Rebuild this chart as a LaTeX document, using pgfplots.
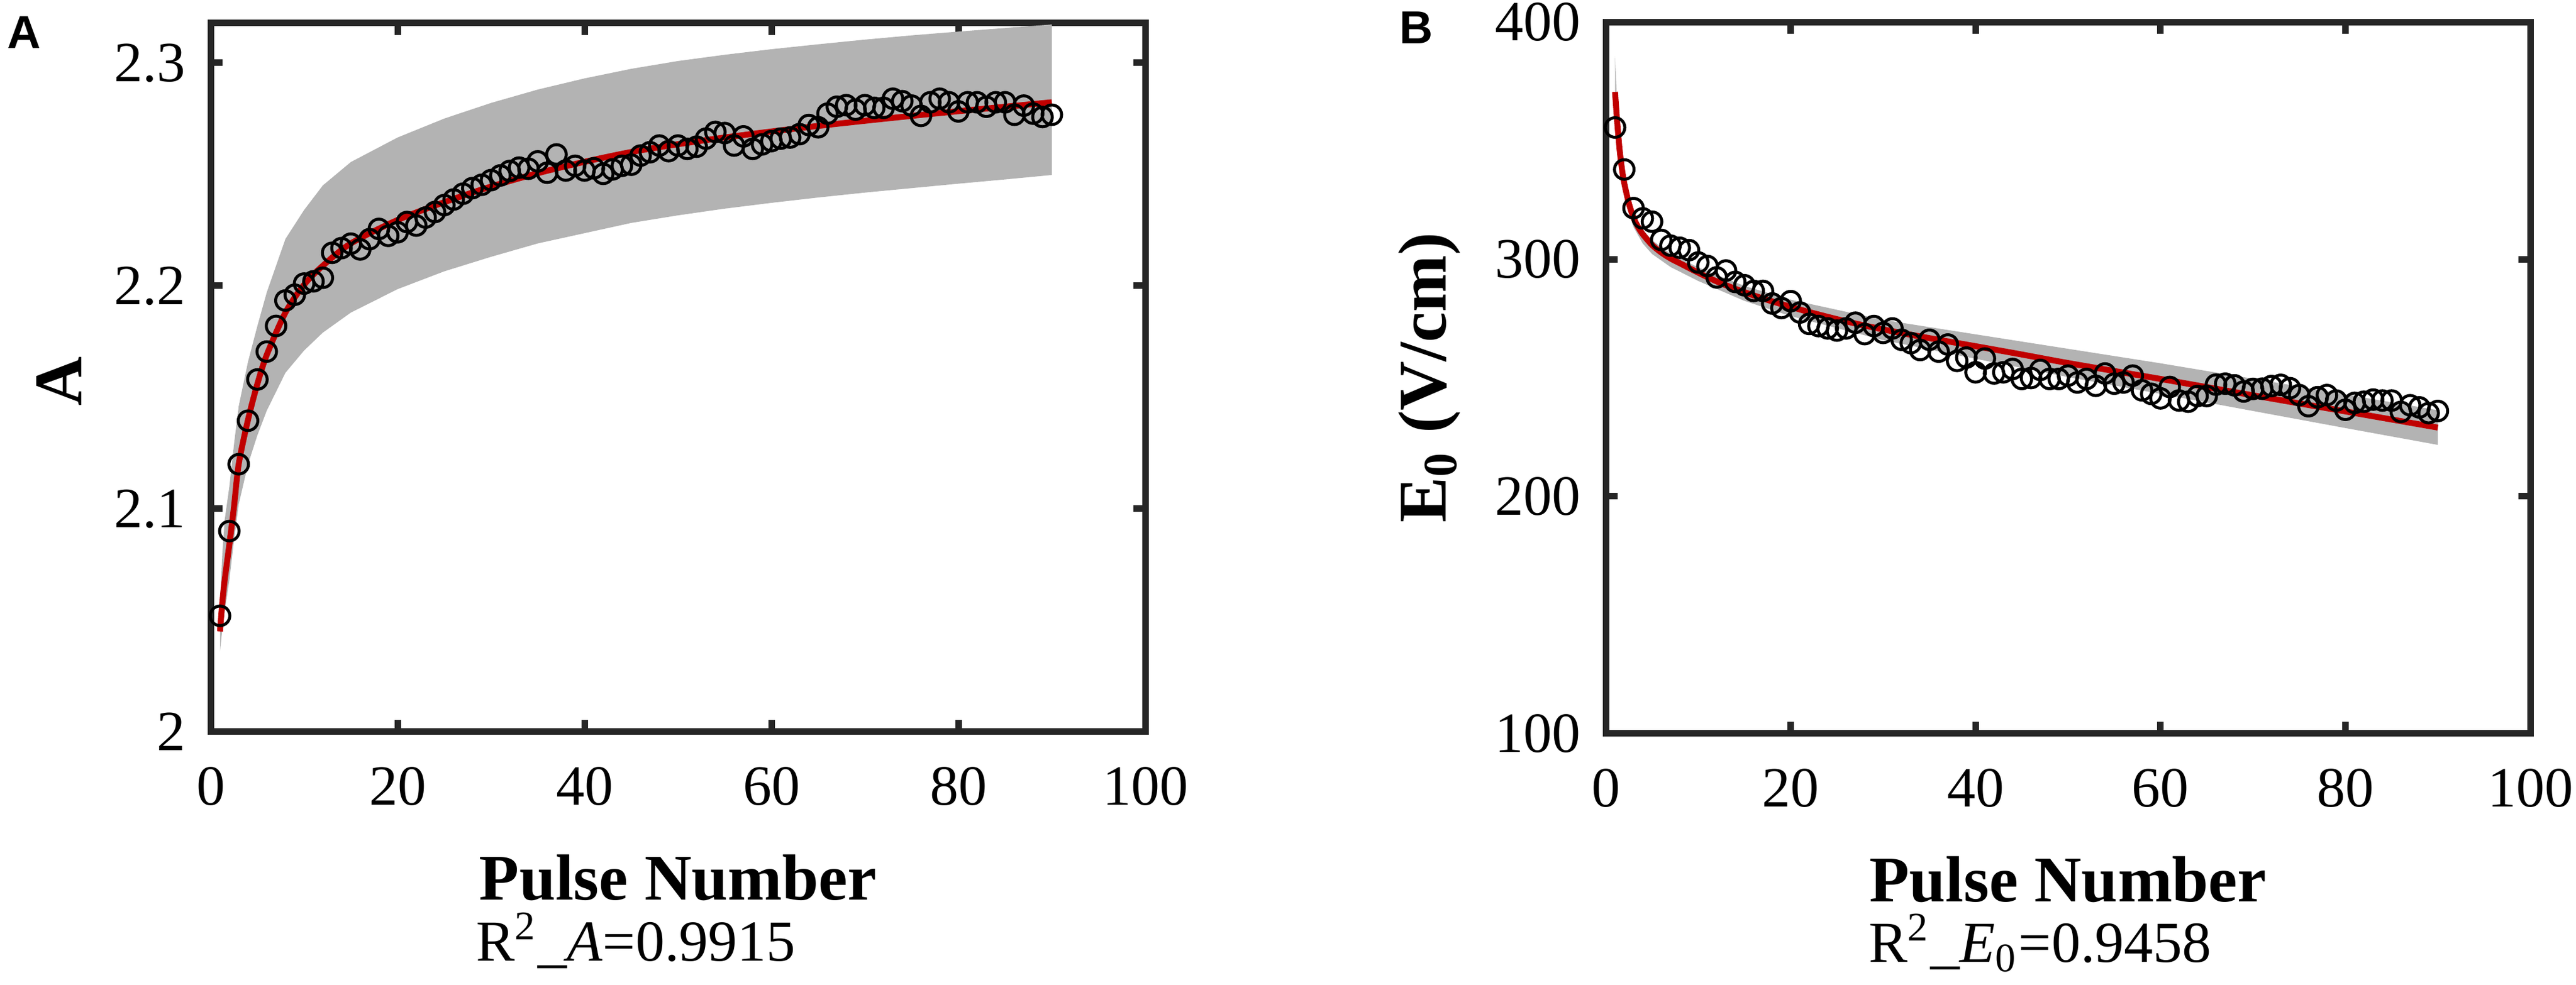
\documentclass[border=0pt]{standalone}
\usepackage{fontspec}
\setmainfont{Liberation Serif}
\newfontfamily\panelfont{Liberation Sans}
\usepackage{pgfplots}
\pgfplotsset{compat=1.18}
\usepgfplotslibrary{fillbetween}
\definecolor{bandgray}{RGB}{179,179,179}
\definecolor{fitred}{RGB}{192,0,0}
\definecolor{axcol}{RGB}{38,38,38}
\pgfplotsset{
  myax/.style={
    scale only axis, anchor=south west,
    axis line style={axcol, line width=1.1pt},
    every tick/.style={axcol, line width=1.1pt},
    major tick length=2pt, tick align=inside,
    xmin=0, xmax=100, xtick={0,20,...,100},
    enlargelimits=false,
    /pgf/number format/assume math mode=true,
    tick label style={font=\fontsize{9.6}{10}\selectfont, text=black},
    xticklabel style={yshift=-2.4pt},
    yticklabel style={xshift=-0.7pt},
  }
}
\begin{document}
\begin{tikzpicture}
% ---------------- Panel A ----------------
\begin{axis}[myax, at={(35.5pt,42.7pt)}, width=157.5pt, height=119.5pt,
  ymin=2, ymax=2.3178, ytick={2,2.1,2.2,2.3}]
\addplot[name path=aup, draw=none] coordinates {
(1,2.058)(1.25,2.080)(1.5,2.095)(2,2.110)(2.5,2.129)(3,2.146)(4,2.166)(5,2.182)(6,2.197)(8,2.221)(10,2.234)(12,2.245)(15,2.2555)(20,2.2665)(25,2.275)(30,2.282)(35,2.288)(40,2.293)(45,2.2973)(50,2.3008)(55,2.3036)(60,2.3061)(65,2.3083)(70,2.3104)(75,2.3123)(80,2.3140)(85,2.3156)(90,2.3172)};
\addplot[name path=alo, draw=none] coordinates {
(1,2.036)(1.25,2.046)(1.5,2.054)(2,2.068)(2.5,2.086)(3,2.102)(4,2.120)(5,2.133)(6,2.144)(8,2.161)(10,2.171)(12,2.179)(15,2.188)(20,2.1985)(25,2.2065)(30,2.213)(35,2.219)(40,2.2236)(45,2.2282)(50,2.2316)(55,2.2346)(60,2.2372)(65,2.2396)(70,2.2418)(75,2.2438)(80,2.2458)(85,2.2477)(90,2.2497)};
\addplot[bandgray, draw=none] fill between[of=aup and alo];
\addplot[only marks, mark=o, mark size=1.65pt, mark options={black, line width=0.5pt}] coordinates {
(1,2.052)(2,2.090)(3,2.120)(4,2.1395)(5,2.158)(6,2.1705)(7,2.182)(8,2.1934)(9,2.196)(10,2.201)
(11,2.202)(12,2.2036)(13,2.2148)(14,2.2169)(15,2.2189)(16,2.2163)(17,2.2209)(18,2.2255)(19,2.2224)(20,2.224)
(21,2.2286)(22,2.227)(23,2.2306)(24,2.2331)(25,2.2362)(26,2.2387)(27,2.2413)(28,2.2438)(29,2.2453)(30,2.2474)
(31,2.2495)(32,2.2515)(33,2.2530)(34,2.2525)(35,2.2558)(36,2.2507)(37,2.2589)(38,2.2517)(39,2.2538)(40,2.2517)
(41,2.2527)(42,2.2502)(43,2.2522)(44,2.2538)(45,2.2543)(46,2.2584)(47,2.2599)(48,2.2629)(49,2.2604)(50,2.2629)
(51,2.2614)(52,2.2624)(53,2.2660)(54,2.2690)(55,2.2685)(56,2.2629)(57,2.2670)(58,2.2614)(59,2.2634)(60,2.2649)
(61,2.2660)(62,2.2665)(63,2.2680)(64,2.2721)(65,2.2711)(66,2.2772)(67,2.2803)(68,2.2810)(69,2.2790)(70,2.2810)
(71,2.2798)(72,2.2798)(73,2.2839)(74,2.2828)(75,2.2808)(76,2.2762)(77,2.2823)(78,2.2839)(79,2.2823)(80,2.2782)
(81,2.2823)(82,2.2823)(83,2.2803)(84,2.2823)(85,2.2823)(86,2.2767)(87,2.2808)(88,2.2772)(89,2.2757)(90,2.2767)};
\addplot[fitred, line width=1.0pt, smooth] coordinates {
(1,2.045)(1.25,2.058)(1.5,2.068)(2,2.084)(2.5,2.101)(3,2.120)(4,2.140)(5,2.156)(6,2.169)(8,2.188)(10,2.2005)(12,2.209)(15,2.219)(20,2.2295)(25,2.2375)(30,2.2445)(35,2.2505)(40,2.2556)(45,2.2600)(50,2.2635)(55,2.2665)(60,2.2692)(65,2.2717)(70,2.2740)(75,2.2762)(80,2.2783)(85,2.2803)(90,2.2823)};
\end{axis}
% ---------------- Panel B ----------------
\begin{axis}[myax, at={(270.6pt,42.4pt)}, width=155.8pt, height=120pt,
  ymin=100, ymax=400, ytick={100,200,300,400}]
\addplot[name path=bup, draw=none] coordinates {
(1,385.5)(1.25,364)(1.5,350)(2,334.5)(2.5,325.8)(3,319.5)(4,312.5)(5,308)(7,302.3)(10,296.5)(15,288.7)(20,282.9)(30,274.4)(40,268.3)(50,262.2)(60,256.1)(70,249.6)(80,243.0)(90,236.3)};
\addplot[name path=blo, draw=none] coordinates {
(1,368.5)(1.25,354)(1.5,342.5)(2,328)(2.5,319.5)(3,313.5)(4,306.6)(5,302.2)(7,296.7)(10,290.8)(15,282.4)(20,276)(30,265.9)(40,258)(50,250.3)(60,243.2)(70,236)(80,228.8)(90,221.7)};
\addplot[bandgray, draw=none] fill between[of=bup and blo];
\addplot[only marks, mark=o, mark size=1.65pt, mark options={black, line width=0.5pt}] coordinates {
(1,355.5)(2,337.8)(3,321.5)(4,317.2)(5,315.8)(6,308.1)(7,305.7)(8,304.8)(9,303.8)(10,298.6)
(11,297.1)(12,292.3)(13,295.2)(14,290.4)(15,289.0)(16,286.6)(17,286.6)(18,281.3)(19,279.4)(20,282.3)
(21,277.5)(22,272.7)(23,271.8)(24,270.8)(25,269.9)(26,270.8)(27,273.2)(28,268.4)(29,271.8)(30,268.9)
(31,270.8)(32,266.0)(33,264.6)(34,261.7)(35,266.0)(36,261.0)(37,264.0)(38,257.1)(39,258.5)(40,252.3)
(41,258.1)(42,251.8)(43,252.3)(44,253.7)(45,249.5)(46,249.9)(47,253.3)(48,249.5)(49,249.5)(50,250.9)
(51,248.0)(52,249.5)(53,246.6)(54,251.8)(55,247.5)(56,248.0)(57,250.9)(58,244.7)(59,243.2)(60,241.3)
(61,246.1)(62,240.4)(63,239.9)(64,242.3)(65,242.3)(66,247.1)(67,247.5)(68,246.8)(69,244.2)(70,245.3)
(71,245.4)(72,246.5)(73,247.0)(74,245.6)(75,242.7)(76,238.0)(77,241.8)(78,242.7)(79,240.4)(80,236.5)
(81,239.4)(82,239.9)(83,240.8)(84,240.4)(85,240.4)(86,235.6)(87,238.4)(88,237.5)(89,235.1)(90,236.0)};
\addplot[fitred, line width=1.0pt, smooth] coordinates {
(1,370.5)(1.25,357)(1.5,346)(1.75,338)(2,332)(2.5,323.5)(3,317.5)(3.5,313.5)(4,310.5)(5,306)(6,302.8)(7,300.3)(8,298.3)(10,294.3)(12,290.6)(14,287.5)(16,284.7)(18,282.2)(20,279.9)(22,277.7)(25,274.7)(28,272.0)(31,269.6)(35,266.7)(40,263.3)(45,259.8)(50,256.2)(60,249.5)(70,242.6)(80,235.8)(90,229.0)};
\end{axis}
% ---------------- Texts ----------------
\node[anchor=base, rotate=90, font=\bfseries\fontsize{11.5}{12}\selectfont] at (13.8pt,101.8pt) {A};
\node[anchor=base, rotate=90, font=\bfseries\fontsize{11.5}{12}\selectfont] at (243.6pt,102.4pt) {E\textsubscript{0} (V/cm)};
\node[anchor=base, font=\bfseries\fontsize{11}{12}\selectfont] at (114.25pt,14.4pt) {Pulse Number};
\node[anchor=base, font=\bfseries\fontsize{11}{12}\selectfont] at (348.5pt,14.0pt) {Pulse Number};
\node[anchor=base west, inner sep=0pt, font=\fontsize{9.8}{10}\selectfont] at (80pt,4.0pt) {R\textsuperscript{2}\_\textit{A}=0.9915};
\node[anchor=base west, inner sep=0pt, font=\fontsize{9.8}{10}\selectfont] at (314.7pt,3.8pt) {R\textsuperscript{2}\_\textit{E}\textsubscript{0}=0.9458};
\node[anchor=center, inner sep=0pt, font=\panelfont\bfseries\fontsize{7.8}{8}\selectfont] at (4.1pt,160.6pt) {A};
\node[anchor=center, inner sep=0pt, font=\panelfont\bfseries\fontsize{7.8}{8}\selectfont] at (238.7pt,161.4pt) {B};
\pgfresetboundingbox
\path[use as bounding box] (0,0) rectangle (434.1pt,166.1pt);
\end{tikzpicture}
\end{document}
